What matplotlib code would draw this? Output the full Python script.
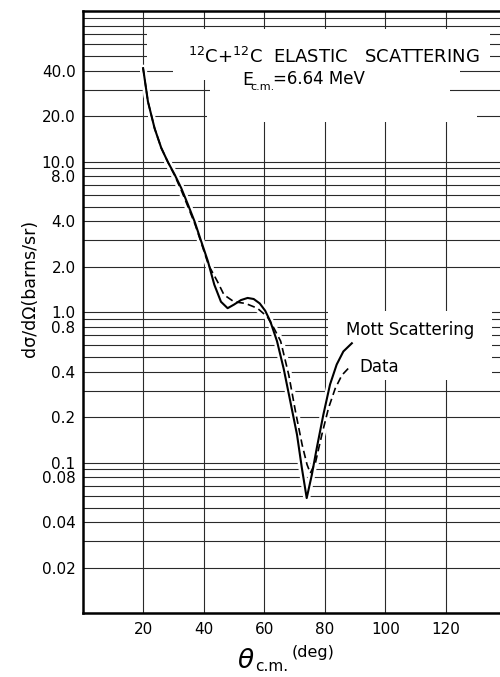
import matplotlib
matplotlib.use('Agg')
import matplotlib.pyplot as plt
from matplotlib.patches import Rectangle
from matplotlib.ticker import FixedLocator, NullLocator, NullFormatter

# Угол в с.ц.м. (град) и сечение (барн/ср)
mott_theta = [20.0, 21.6, 23.8, 26.0, 28.2, 30.4, 32.6, 34.8, 37.0, 39.2, 41.4, 43.5,
              45.7, 47.9, 50.0, 52.3, 54.5, 56.5, 58.5, 60.3, 62.0, 64.2, 66.4, 68.6,
              70.8, 72.4, 74.0, 75.7, 77.3, 79.5, 81.7, 83.9, 86.1, 88.9]
mott_sigma = [41.7, 25.0, 16.6, 12.3, 9.9, 8.2, 6.65, 5.18, 3.99, 2.94, 2.17, 1.52,
              1.17, 1.06, 1.12, 1.20, 1.24, 1.22, 1.14, 1.02, 0.865, 0.64, 0.42, 0.254,
              0.153, 0.092, 0.058, 0.083, 0.124, 0.208, 0.33, 0.448, 0.547, 0.62]

data_theta = [20.0, 21.6, 23.8, 26.0, 28.2, 30.4, 32.8, 35.0, 37.2, 39.4, 41.6, 44.5,
              46.7, 50.0, 53.8, 57.7, 61.0, 63.2, 65.4, 68.1, 70.3, 72.5, 74.1, 75.2,
              76.9, 79.0, 81.2, 83.4, 85.6, 88.3]
data_sigma = [41.7, 25.0, 16.6, 12.3, 9.9, 8.1, 6.3, 4.9, 3.8, 2.8, 2.05, 1.60,
              1.30, 1.17, 1.14, 1.06, 0.93, 0.78, 0.64, 0.38, 0.218, 0.131, 0.097, 0.085,
              0.10, 0.153, 0.23, 0.31, 0.38, 0.434]

x_ticks = [20, 40, 60, 80, 100, 120]
y_ticks = [0.02, 0.04, 0.08, 0.1, 0.2, 0.4, 0.8, 1.0, 2.0, 4.0, 8.0, 10.0, 20.0, 40.0]
y_tick_labels = ['0.02', '0.04', '0.08', '0.1', '0.2', '0.4', '0.8', '1.0', '2.0',
                 '4.0', '8.0', '10.0', '20.0', '40.0']
y_grid = [m * 10.0 ** k for k in range(-2, 2) for m in range(1, 10)]

W, H = 500, 677


def fx(px):
    return px / W


def fy(py):
    return 1 - py / H


fig = plt.figure(figsize=(W / 100, H / 100), dpi=100)
ax = fig.add_axes([fx(82.5), fy(613), (W - 82.5) / W, (613 - 11) / H])

ax.set_yscale('log')
ax.set_xlim(0, 137.8)
ax.set_ylim(0.01, 100)

ax.set_xticks(x_ticks)
ax.set_xticklabels([str(v) for v in x_ticks])
ax.xaxis.set_minor_locator(NullLocator())
ax.yaxis.set_major_locator(FixedLocator(y_ticks))
ax.set_yticklabels(y_tick_labels)
ax.yaxis.set_minor_locator(FixedLocator(y_grid))
ax.yaxis.set_minor_formatter(NullFormatter())
ax.tick_params(which='both', length=0)
ax.tick_params(axis='x', pad=6.5, labelsize=11)
ax.tick_params(axis='y', pad=5, labelsize=11)

ax.set_axisbelow(True)
ax.grid(True, which='both', axis='y', color='#2a2a2a', lw=0.8)
ax.grid(True, which='major', axis='x', color='#2a2a2a', lw=0.8)

for side in ['left', 'bottom', 'top']:
    ax.spines[side].set_linewidth(1.8)
ax.spines['right'].set_visible(False)

# стёртые участки сетки под надписями
gaps = [(147, 29, 490, 62), (173, 62, 460, 80), (210, 80, 450, 97), (207, 97, 477, 122),
        (328, 311, 492, 380)]
for x0, y0, x1, y1 in gaps:
    ax.add_patch(Rectangle((fx(x0), fy(y1)), fx(x1) - fx(x0), fy(y0) - fy(y1),
                           transform=fig.transFigure, facecolor='white',
                           edgecolor='none', zorder=1))

# белая "подложка" вокруг кривых
ax.plot(mott_theta, mott_sigma, color='white', lw=5, zorder=1.5, solid_capstyle='round')
ax.plot(data_theta, data_sigma, color='white', lw=5, zorder=1.5, solid_capstyle='round')

ax.plot(mott_theta, mott_sigma, color='black', lw=1.5, zorder=2)
ax.plot(data_theta, data_sigma, color='black', lw=1.2, zorder=2.1,
        linestyle=(0, (4.5, 2.5)))

fig.text(fx(188), fy(63), r'$^{12}$C+$^{12}$C  ELASTIC   SCATTERING', fontsize=13,
         ha='left', va='baseline')
fig.text(fx(242), fy(85), 'E', fontsize=12.5, ha='left', va='baseline')
fig.text(fx(250.5), fy(90), 'c.m.', fontsize=8, ha='left', va='baseline')
fig.text(fx(273), fy(84), '=6.64 MeV', fontsize=12, ha='left', va='baseline')
fig.text(fx(346), fy(335), 'Mott Scattering', fontsize=12, ha='left', va='baseline')
fig.text(fx(359), fy(372), 'Data', fontsize=12, ha='left', va='baseline')

fig.text(fx(30), fy(288), 'dσ/dΩ(barns/sr)', fontsize=12.5, rotation=90,
         ha='center', va='center')
fig.text(fx(237), fy(668), r'$\theta$', fontsize=19, ha='left', va='baseline')
fig.text(fx(255), fy(671), 'c.m.', fontsize=11, ha='left', va='baseline')
fig.text(fx(292), fy(657), '(deg)', fontsize=11.5, ha='left', va='baseline')

fig.savefig('out.png', dpi=100)
